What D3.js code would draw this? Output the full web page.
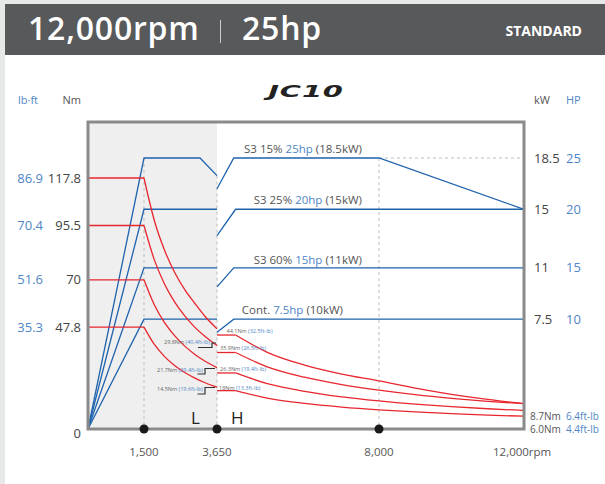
<!DOCTYPE html>
<html><head><meta charset="utf-8">
<script src="https://cdn.jsdelivr.net/npm/d3@7"></script>
<style>
html,body{margin:0;padding:0;background:#fff;}
svg{display:block;font-family:"Open Sans",sans-serif;}
</style></head>
<body><svg id="c" width="605" height="484"></svg>
<script>
// ---------- data ----------
const xTicks = [1500, 3650, 8000];
const xTickLabels = ["1,500", "3,650", "8,000"];
const xEndLabel = "12,000rpm";
const nmTicks = [117.8, 95.5, 70, 47.8];
const lbftTicks = ["86.9", "70.4", "51.6", "35.3"];
const kwTicks = [18.5, 15, 11, 7.5];
const hpTicks = ["25", "20", "15", "10"];

// Low-speed (L) winding
const rpmL = [0, 1500, 1800, 2100, 2400, 2700, 3000, 3300, 3650];
const torqueL_S3_15 = [117.8, 117.8, 98.1, 84.1, 73.6, 65.4, 58.9, 52.8, 47.0];
const torqueL_S3_25 = [95.5, 95.5, 79.6, 68.2, 59.7, 53.1, 47.7, 43.4, 39.2];
const torqueL_S3_60 = [70, 70, 58.4, 50.0, 43.8, 38.9, 35.0, 31.8, 28.8];
const torqueL_Cont  = [47.8, 47.8, 39.8, 34.1, 29.8, 26.5, 23.9, 21.7, 19.6];
const rpmPL_S3_15 = [0, 1500, 3150, 3650];
const powerL_S3_15 = [0, 18.5, 18.5, 17.3];
const rpmPL = [0, 1500, 3650];
const powerL_S3_25 = [0, 15, 15];
const powerL_S3_60 = [0, 11, 11];
const powerL_Cont  = [0, 7.5, 7.5];

// High-speed (H) winding
const rpmH = [3650, 4150, 5000, 6000, 7000, 8000, 9000, 10000, 11000, 12000];
const torqueH_S3_15 = [44.1, 44.1, 36.0, 30.0, 25.8, 22.6, 19.2, 16.3, 13.9, 11.9];
const torqueH_S3_25 = [35.9, 35.9, 29.2, 24.3, 20.8, 18.2, 16.1, 14.4, 13.0, 11.9];
const torqueH_S3_60 = [26.3, 26.3, 21.3, 17.7, 15.1, 13.2, 11.7, 10.5, 9.5, 8.7];
const torqueH_Cont  = [18.0, 18.0, 14.5, 12.0, 10.3, 9.0, 8.0, 7.2, 6.5, 6.0];
const rpmPH_S3_15 = [3650, 4100, 8000, 12000];
const powerH_S3_15 = [16.4, 18.5, 18.5, 15];
const rpmPH_S3_25 = [3650, 4150, 12000];
const powerH_S3_25 = [13.2, 15, 15];
const rpmPH = [3650, 4100, 12000];
const powerH_S3_60 = [9.7, 11, 11];
const powerH_Cont  = [6.6, 7.5, 7.5];

const seriesNames = ["S3 15%", "S3 25%", "S3 60%", "Cont."];
const seriesHp = ["25hp", "20hp", "15hp", "7.5hp"];
const seriesKw = [" (18.5kW)", " (15kW)", " (11kW)", " (10kW)"];

const hLabelsNm = ["44.1Nm", "35.9Nm", "26.3Nm", "18Nm"];
const hLabelsLb = ["(32.5ft-lb)", "(26.5ft-lb)", "(19.4ft-lb)", "(13.3ft-lb)"];
const lLabelsNm = ["29.8Nm", "21.7Nm", "14.5Nm"];
const lLabelsLb = ["(40.4ft-lb)", "(29.4ft-lb)", "(19.6ft-lb)"];
const endNm = ["8.7Nm", "6.0Nm"];
const endLb = ["6.4ft-lb", "4.4ft-lb"];

// ---------- layout ----------
const svg = d3.select("#c");
const L = 88, R = 524, T = 122, B = 429;
const x = d3.scaleLinear().domain([0, 1500, 3650, 8000, 12000]).range([L, 144, 217, 379, R]);
const yNm = d3.scaleLinear().domain([0, 117.8]).range([B, 178]);
const yKw = d3.scaleLinear().domain([0, 18.5]).range([B, 158]);

const RED = "#e8262e", BLUE = "#1f63ad", LBLUE = "#4f86c6", GRAY = "#555", DGRAY = "#8a8a8a";

// page background strips and header
svg.append("rect").attr("x", 0).attr("y", 0).attr("width", 605).attr("height", 484).attr("fill", "#e7e8e8");
svg.append("rect").attr("x", 5).attr("y", 4).attr("width", 600).attr("height", 480).attr("fill", "#fff");
svg.append("rect").attr("x", 5).attr("y", 4).attr("width", 600).attr("height", 51).attr("fill", "#58595b");
svg.append("text").attr("x", 28).attr("y", 39.5).attr("fill", "#fff").attr("font-size", 32).attr("font-weight", 600).attr("letter-spacing", 0.8).text("12,000rpm");
svg.append("line").attr("x1", 220.5).attr("x2", 220.5).attr("y1", 20).attr("y2", 43).attr("stroke", "#ccc").attr("stroke-width", 1);
svg.append("text").attr("x", 242).attr("y", 39.5).attr("fill", "#fff").attr("font-size", 32).attr("font-weight", 600).attr("letter-spacing", 0.8).text("25hp");
svg.append("text").attr("x", 582).attr("y", 36).attr("text-anchor", "end").attr("fill", "#fff").attr("font-size", 14).attr("font-weight", 700).text("STANDARD");

// logo
svg.append("text").attr("transform", "translate(306,97) scale(1.75,1)").attr("text-anchor", "middle")
  .attr("font-family", "DejaVu Sans").attr("font-size", 16.5).attr("font-weight", 700).attr("font-style", "italic")
  .attr("letter-spacing", 0.5).attr("fill", "#222").text("JC10");

// L region shade
svg.append("rect").attr("x", L).attr("y", T).attr("width", x(3650) - L).attr("height", B - T).attr("fill", "#efefef");

// dashed guides
const dash = svg.append("g").attr("stroke", "#bdbdbd").attr("stroke-width", 1).attr("stroke-dasharray", "3,3").attr("fill", "none");
dash.append("line").attr("x1", x(1500)).attr("x2", x(1500)).attr("y1", yKw(18.5)).attr("y2", B);
dash.append("line").attr("x1", x(3650)).attr("x2", x(3650)).attr("y1", yKw(17.3)).attr("y2", B);
dash.append("line").attr("x1", x(8000)).attr("x2", x(8000)).attr("y1", yKw(18.5)).attr("y2", B);
dash.append("line").attr("x1", x(8000)).attr("x2", R).attr("y1", yKw(18.5)).attr("y2", yKw(18.5));

// power lines
const pLine = d3.line().x(d => x(d[0])).y(d => yKw(d[1]));
const zip = (a, b) => a.map((v, i) => [v, b[i]]);
const powerSets = [
  [rpmPL_S3_15, powerL_S3_15], [rpmPL, powerL_S3_25], [rpmPL, powerL_S3_60], [rpmPL, powerL_Cont],
  [rpmPH_S3_15, powerH_S3_15], [rpmPH_S3_25, powerH_S3_25], [rpmPH, powerH_S3_60], [rpmPH, powerH_Cont]
];
svg.append("g").selectAll("path").data(powerSets).join("path")
  .attr("d", s => pLine(zip(s[0], s[1]))).attr("fill", "none").attr("stroke", BLUE).attr("stroke-width", 1.3);

// torque curves: flat part linear, decay part smooth
const flatLine = d3.line().x(d => x(d[0])).y(d => yNm(d[1]));
const curveLine = d3.line().x(d => x(d[0])).y(d => yNm(d[1])).curve(d3.curveMonotoneX);
const torqueSets = [
  [rpmL, torqueL_S3_15], [rpmL, torqueL_S3_25], [rpmL, torqueL_S3_60], [rpmL, torqueL_Cont],
  [rpmH, torqueH_S3_15], [rpmH, torqueH_S3_25], [rpmH, torqueH_S3_60], [rpmH, torqueH_Cont]
];
const tg = svg.append("g").attr("fill", "none").attr("stroke", RED).attr("stroke-width", 1.3);
torqueSets.forEach(s => {
  const pts = zip(s[0], s[1]);
  tg.append("path").attr("d", flatLine(pts.slice(0, 2)));
  tg.append("path").attr("d", curveLine(pts.slice(1)));
});

// frame
svg.append("rect").attr("x", L).attr("y", T).attr("width", R - L).attr("height", B - T)
  .attr("fill", "none").attr("stroke", DGRAY).attr("stroke-width", 3);

// dots
svg.append("g").selectAll("circle").data(xTicks).join("circle")
  .attr("cx", d => x(d)).attr("cy", B).attr("r", 4.5).attr("fill", "#1a1a1a");

// x axis labels
svg.append("g").selectAll("text").data(xTicks).join("text")
  .attr("x", d => x(d)).attr("y", 456).attr("text-anchor", "middle").attr("font-size", 11.5).attr("fill", GRAY)
  .text((d, i) => xTickLabels[i]);
svg.append("text").attr("x", 493).attr("y", 456).attr("font-size", 11.5).attr("fill", GRAY).text(xEndLabel);

// L / H
svg.append("text").attr("x", 191).attr("y", 423.5).attr("font-size", 17).attr("fill", "#222").text("L");
svg.append("text").attr("x", 231).attr("y", 423.5).attr("font-size", 17).attr("fill", "#222").text("H");

// left axis
svg.append("text").attr("x", 18).attr("y", 104).attr("font-size", 11).attr("fill", LBLUE).text("lb·ft");
svg.append("text").attr("x", 81).attr("y", 104).attr("text-anchor", "end").attr("font-size", 11).attr("fill", GRAY).text("Nm");
svg.append("g").selectAll("text").data(nmTicks).join("text")
  .attr("x", 81).attr("y", d => yNm(d)).attr("dy", "0.35em").attr("text-anchor", "end").attr("font-size", 13).attr("fill", "#444").text(d => d);
svg.append("g").selectAll("text").data(nmTicks).join("text")
  .attr("x", 43).attr("y", d => yNm(d)).attr("dy", "0.35em").attr("text-anchor", "end").attr("font-size", 13).attr("fill", LBLUE).text((d, i) => lbftTicks[i]);
svg.append("text").attr("x", 81).attr("y", yNm(0) + 4).attr("dy", "0.35em").attr("text-anchor", "end").attr("font-size", 13).attr("fill", "#444").text("0");

// right axis
svg.append("text").attr("x", 534).attr("y", 104).attr("font-size", 11).attr("fill", GRAY).text("kW");
svg.append("text").attr("x", 566).attr("y", 104).attr("font-size", 11).attr("fill", LBLUE).text("HP");
svg.append("g").selectAll("text").data(kwTicks).join("text")
  .attr("x", 534).attr("y", d => yKw(d)).attr("dy", "0.35em").attr("font-size", 13).attr("fill", "#444").text(d => d);
svg.append("g").selectAll("text").data(kwTicks).join("text")
  .attr("x", 566).attr("y", d => yKw(d)).attr("dy", "0.35em").attr("font-size", 13).attr("fill", LBLUE).text((d, i) => hpTicks[i]);

// end-of-curve labels
endNm.forEach((t, i) => {
  const yy = [416.5, 429][i];
  svg.append("text").attr("x", 530).attr("y", yy).attr("dy", "0.35em").attr("font-size", 10).attr("fill", GRAY).text(t);
  svg.append("text").attr("x", 566).attr("y", yy).attr("dy", "0.35em").attr("font-size", 10).attr("fill", LBLUE).text(endLb[i]);
});

// series annotations
const annY = [153, 204, 264, 314];
const annX = [362, 362, 362, 343];
seriesNames.forEach((n, i) => {
  const t = svg.append("text").attr("x", annX[i]).attr("y", annY[i]).attr("text-anchor", "end").attr("font-size", 11.5).attr("fill", GRAY);
  t.append("tspan").text(n + " ");
  t.append("tspan").attr("fill", LBLUE).text(seriesHp[i]);
  t.append("tspan").text(seriesKw[i]);
});

// small H labels
const hLabY = [330.7, 347.7, 368.7, 387.7];
const hLabX = [226.5, 220, 220, 219];
hLabelsNm.forEach((n, i) => {
  const t = svg.append("text").attr("x", hLabX[i]).attr("y", hLabY[i]).attr("dy", "0.35em").attr("font-size", 5.5).attr("fill", "#666");
  t.append("tspan").text(n + " ");
  t.append("tspan").attr("fill", LBLUE).text(hLabelsLb[i]);
});
// small L labels with step connectors
const lLabY = [342.3, 370.3, 389.3];
const lLabX = [210, 203, 203];
lLabelsNm.forEach((n, i) => {
  const t = svg.append("text").attr("x", lLabX[i]).attr("y", lLabY[i]).attr("dy", "0.35em").attr("text-anchor", "end").attr("font-size", 5.5).attr("fill", "#666");
  t.append("tspan").text(n + " ");
  t.append("tspan").attr("fill", LBLUE).text(lLabelsLb[i]);
});
const steps = [
  [[198, 347.5], [212, 347.5], [212, 343], [216, 343]],
  [[197.5, 374], [205, 374], [205, 368.5], [215, 368.5]],
  [[197.5, 394], [205, 394], [205, 387.5], [215, 387.5]]
];
svg.append("g").selectAll("path").data(steps).join("path")
  .attr("d", d3.line()).attr("fill", "none").attr("stroke", "#333").attr("stroke-width", 1.2);
</script></body></html>
